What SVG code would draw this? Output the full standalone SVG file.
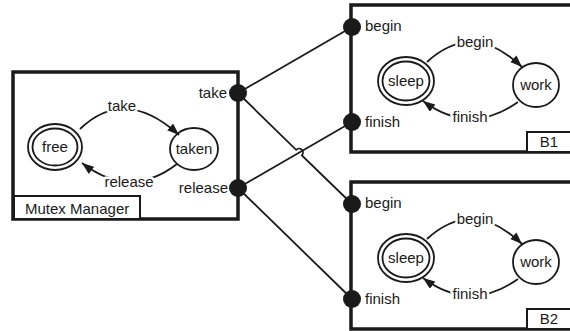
<svg xmlns="http://www.w3.org/2000/svg" width="570" height="331" viewBox="0 0 570 331">
  <style>
    .frame { fill: none; stroke: #1a1a1a; stroke-width: 3.5; }
    .tag { fill: #fff; stroke: #1a1a1a; stroke-width: 2; }
    .state { fill: #fff; stroke: #1a1a1a; stroke-width: 1.8; }
    .port { fill: #1a1a1a; }
    .wire { fill: none; stroke: #1a1a1a; stroke-width: 1.8; }
    .trans { fill: none; stroke: #1a1a1a; stroke-width: 1.8; marker-end: url(#arrow); }
    text { font-family: "Liberation Sans", Arial, sans-serif; font-size: 15px; fill: #1a1a1a; }
    .mid { text-anchor: middle; }
    .end { text-anchor: end; }
    .elabel { text-anchor: middle; paint-order: stroke; stroke: #fff; stroke-width: 5; stroke-linejoin: round; }
  </style>
  <defs>
    <marker id="arrow" markerUnits="userSpaceOnUse" markerWidth="14" markerHeight="10" refX="12" refY="4.5" orient="auto">
      <path d="M0,0 L12,4.5 L0,9 z" fill="#1a1a1a"/>
    </marker>
  </defs>

  <rect width="570" height="331" fill="#fff"/>

  <!-- port-to-port wires -->
  <g id="connectors">
    <path class="wire" d="M238,93 L352,27"/>
    <path class="wire" d="M238,93 L296.1,149.8 A4 4 0 0 1 301.9,155.4 L352,204"/>
    <path class="wire" d="M238,188 L352,122"/>
    <path class="wire" d="M238,188 L352,299"/>
  </g>

  <!-- mutex manager component -->
  <g id="mutex-manager">
    <rect class="frame" x="13" y="72" width="225" height="147"/>
    <rect class="tag" x="14" y="196" width="126" height="23"/>
    <text x="25" y="214">Mutex Manager</text>
    <g id="free">
      <ellipse class="state" cx="55" cy="147" rx="27" ry="23"/>
      <ellipse class="state" cx="55" cy="147" rx="22.5" ry="18.5"/>
      <text class="mid" x="55" y="152">free</text>
    </g>
    <g id="taken">
      <ellipse class="state" cx="194" cy="149" rx="24" ry="21"/>
      <text class="mid" x="194" y="154">taken</text>
    </g>
    <path class="trans" d="M80,129 Q125,86 179,135"/>
    <text class="elabel" x="122" y="111">take</text>
    <path class="trans" d="M177,164 Q130,200 82,163"/>
    <text class="elabel" x="129" y="187">release</text>
    <circle class="port" cx="238" cy="93" r="9"/>
    <text class="end" x="227" y="98">take</text>
    <circle class="port" cx="238" cy="188" r="9"/>
    <text class="end" x="228" y="193">release</text>
  </g>

  <!-- B1 component -->
  <g id="b1">
    <rect class="frame" x="351" y="5" width="230" height="147"/>
    <rect class="tag" x="527" y="132" width="60" height="20"/>
    <text class="mid" x="549" y="147">B1</text>
    <g id="b1-sleep">
      <ellipse class="state" cx="406" cy="81" rx="28" ry="24"/>
      <ellipse class="state" cx="406" cy="81" rx="23.5" ry="19.5"/>
      <text class="mid" x="406" y="86">sleep</text>
    </g>
    <g id="b1-work">
      <ellipse class="state" cx="536" cy="85" rx="23" ry="22"/>
      <text class="mid" x="536" y="90">work</text>
    </g>
    <path class="trans" d="M427,62 Q473,20 522,67"/>
    <text class="elabel" x="475" y="47">begin</text>
    <path class="trans" d="M518,102 Q470,136 423,101"/>
    <text class="elabel" x="470" y="122">finish</text>
    <circle class="port" cx="352" cy="27" r="9"/>
    <text x="365" y="31">begin</text>
    <circle class="port" cx="352" cy="122" r="9"/>
    <text x="365" y="127">finish</text>
  </g>

  <!-- B2 component: same layout as B1, shifted down -->
  <g id="b2" transform="translate(0,177)">
    <rect class="frame" x="351" y="5" width="230" height="147"/>
    <rect class="tag" x="527" y="132" width="60" height="20"/>
    <text class="mid" x="549" y="147">B2</text>
    <g id="b2-sleep">
      <ellipse class="state" cx="406" cy="81" rx="28" ry="24"/>
      <ellipse class="state" cx="406" cy="81" rx="23.5" ry="19.5"/>
      <text class="mid" x="406" y="86">sleep</text>
    </g>
    <g id="b2-work">
      <ellipse class="state" cx="536" cy="85" rx="23" ry="22"/>
      <text class="mid" x="536" y="90">work</text>
    </g>
    <path class="trans" d="M427,62 Q473,20 522,67"/>
    <text class="elabel" x="475" y="47">begin</text>
    <path class="trans" d="M518,102 Q470,136 423,101"/>
    <text class="elabel" x="470" y="122">finish</text>
    <circle class="port" cx="352" cy="27" r="9"/>
    <text x="365" y="31">begin</text>
    <circle class="port" cx="352" cy="122" r="9"/>
    <text x="365" y="127">finish</text>
  </g>
</svg>
